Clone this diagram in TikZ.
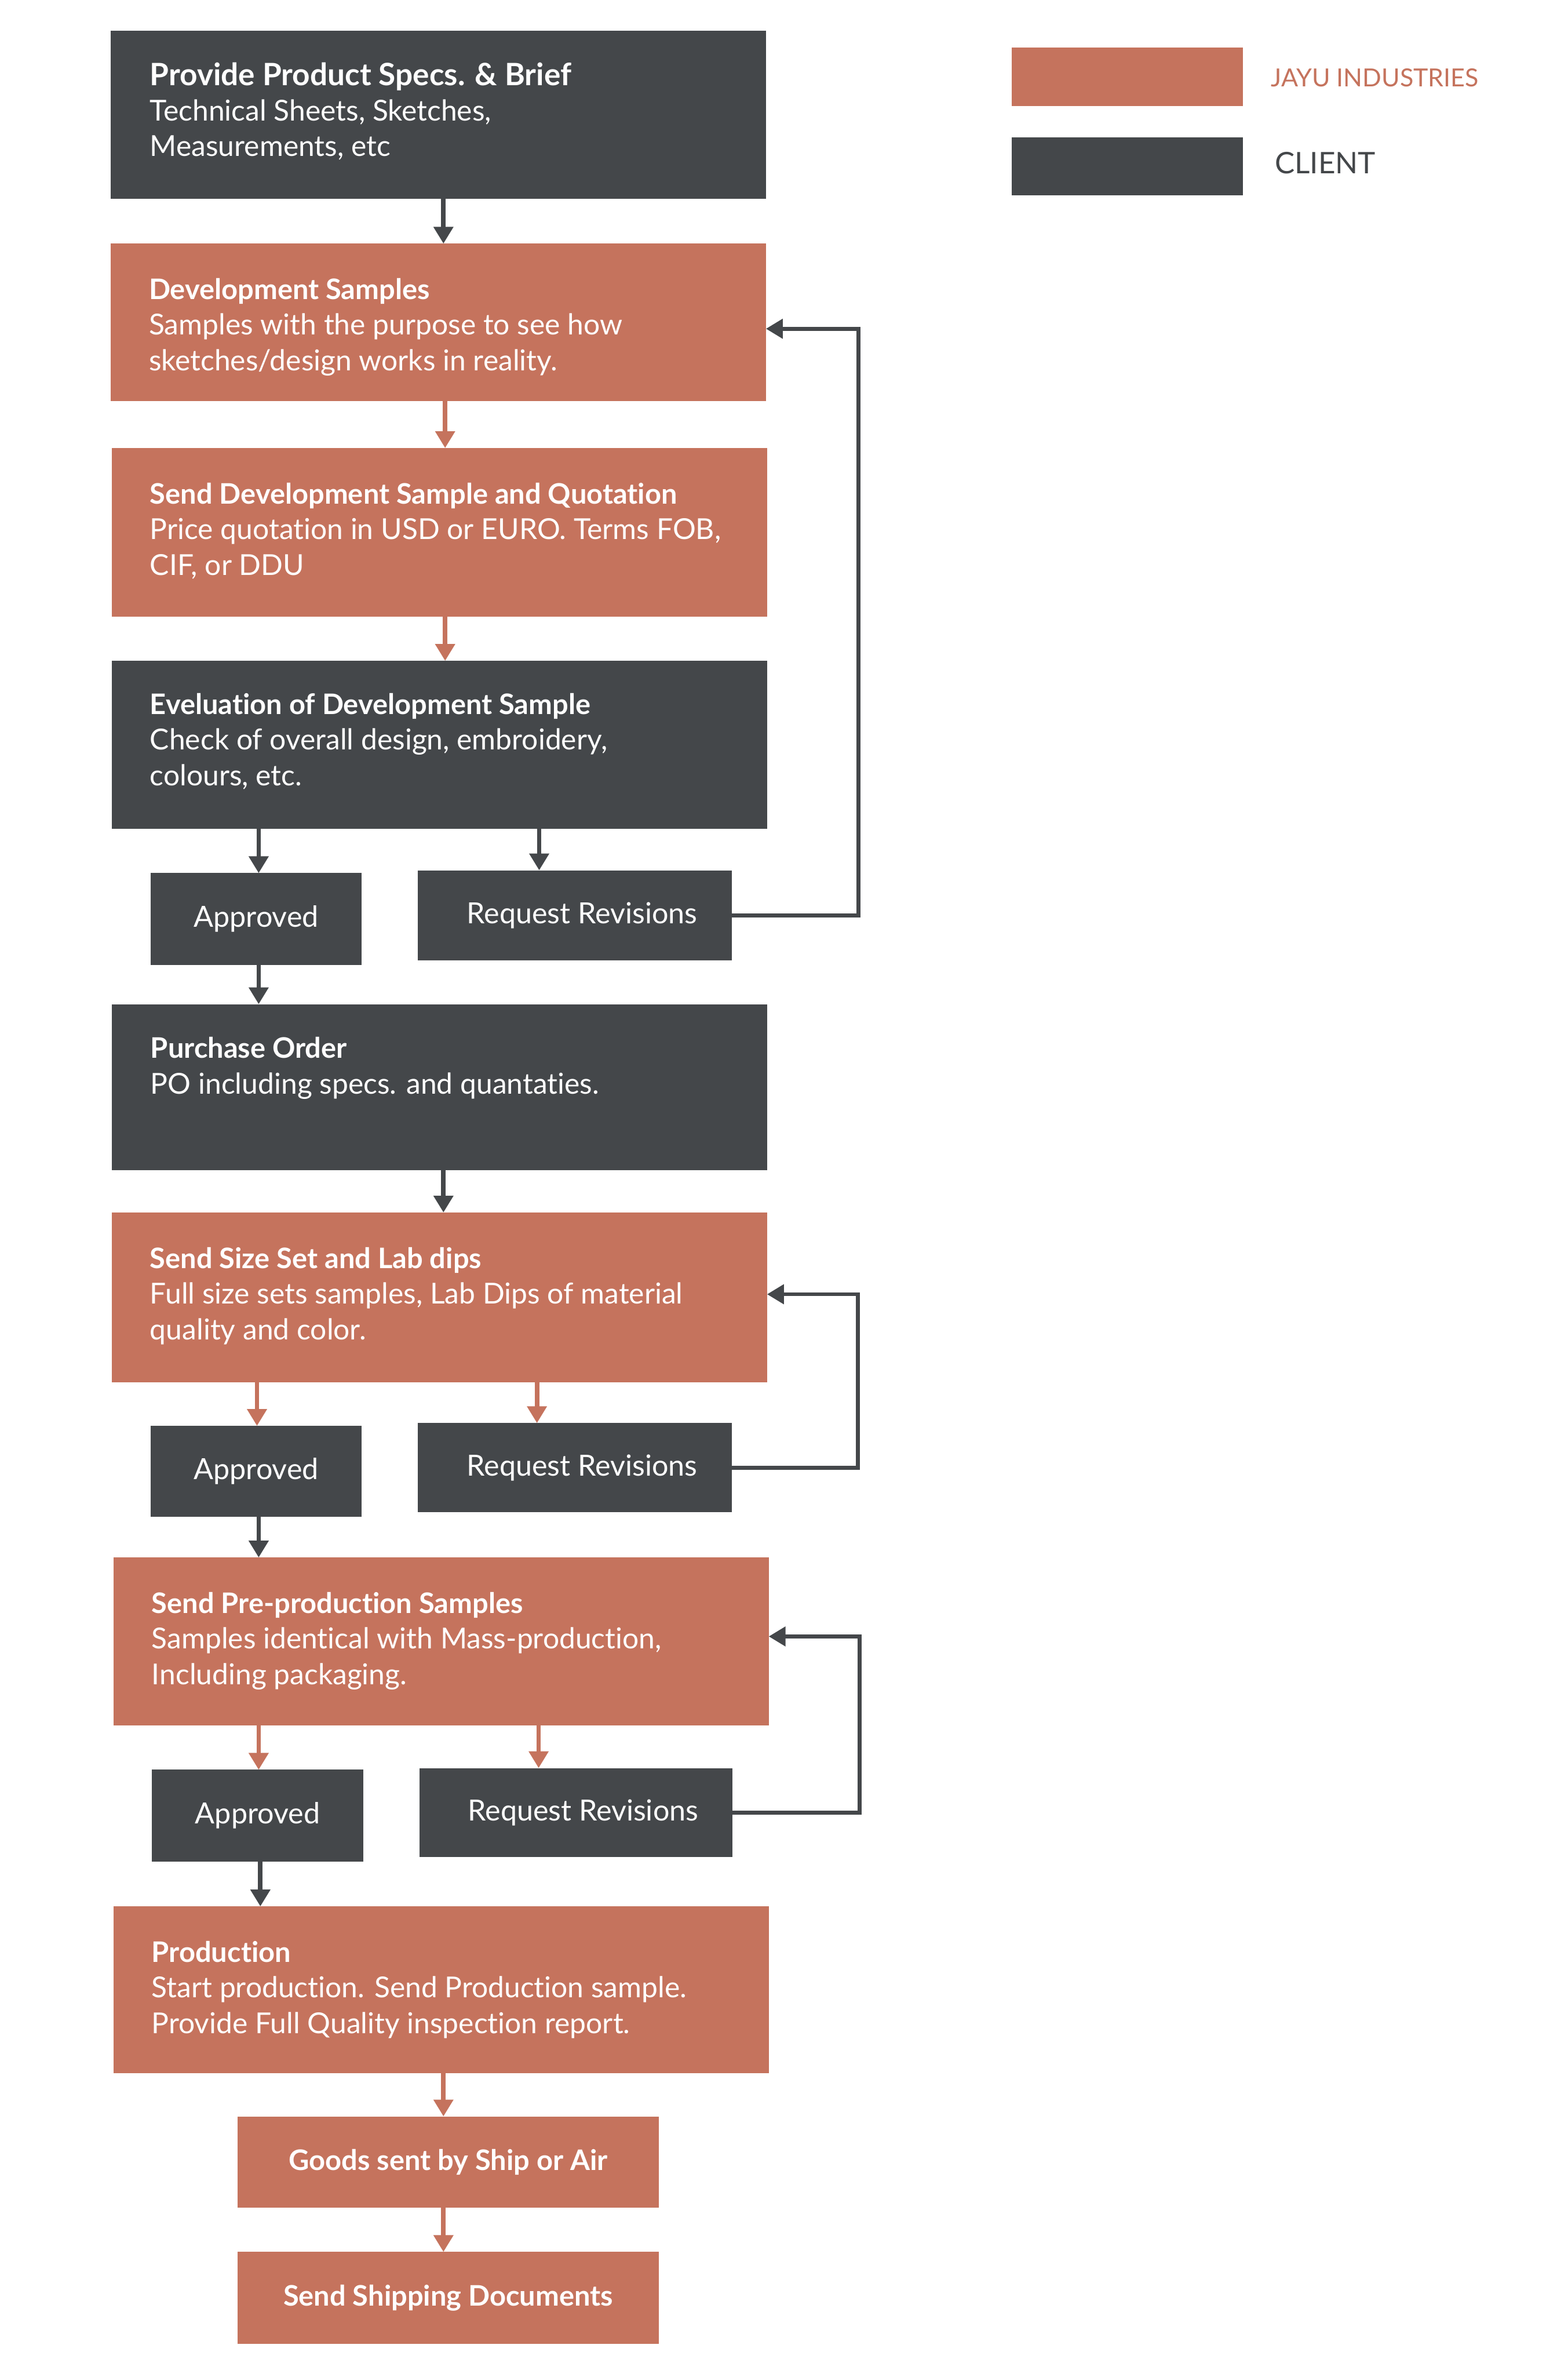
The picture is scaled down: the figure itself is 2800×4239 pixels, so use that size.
\documentclass[tikz,border=0pt]{standalone}
\usepackage{fontspec}
\setmainfont{Lato}[Ligatures=NoCommon]
\usetikzlibrary{arrows.meta,calc}
\definecolor{jayu}{HTML}{C5735D}
\definecolor{client}{HTML}{44474A}
\newcommand\bx[7]{\node[#2, minimum width={#5-#3}, minimum height={#6-#4}] (#1) at ({(#3+#5)/2},{(#4+#6)/2}) {#7};}
\newcommand\dn[4]{\draw[#1] ([xshift=#3pt]#2.south) -- ([xshift=#3pt]#2.south |- #4.north);}
\newcommand\bodyfont{\fontsize{51.5}{64}\selectfont}
\newcommand\headfont{\fontsize{50.5}{64}\selectfont\bfseries}
\begin{document}
\begin{tikzpicture}[x=1pt,y=-1pt,
  orangebox/.style={rectangle, fill=jayu, inner sep=0pt, outer sep=0pt},
  darkbox/.style={rectangle, fill=client, inner sep=0pt, outer sep=0pt},
  smalltxt/.style={text=white, font=\fontsize{52}{64}\selectfont},
  boldtxt/.style={text=white, font=\headfont},
  txt/.style={text=white, inner sep=0pt, outer sep=0pt, anchor=base west},
  arrD/.style={draw=client, line width=8pt, -{Triangle[width=34pt,length=30pt]}},
  arrO/.style={draw=jayu, line width=8pt, -{Triangle[width=34pt,length=30pt]}},
  loopline/.style={draw=client, line width=7pt, line join=miter, -{Triangle[width=34pt,length=30pt]}}
]
\useasboundingbox (0,0) rectangle (2800,4239);
\fill[white] (0,0) rectangle (2800,4239);

% legend
\bx{L1}{orangebox}{1807}{85}{2220}{189}{}
\bx{L2}{darkbox}{1807}{245}{2220}{349}{}
\node[txt, text=jayu, font=\fontsize{44.5}{54}\selectfont] (L1t) at (2270,155) {JAYU INDUSTRIES};
\node[txt, text=client, font=\fontsize{53}{60}\selectfont] (L2t) at (2277,310) {CLIENT};

% boxes
\bx{B1}{darkbox}{198}{55}{1368}{355}{}
\node[txt, font=\fontsize{55}{64}\selectfont\bfseries] (B1a) at (268,153) {Provide Product Specs. \& Brief};
\node[txt, font=\bodyfont] (B1b) at (268,216) {Technical Sheets, Sketches,};
\node[txt, font=\bodyfont] (B1c) at (268,279) {Measurements, etc};

\bx{B2}{orangebox}{198}{435}{1368}{716}{}
\node[txt, font=\headfont] (B2a) at (266,535) {Development Samples};
\node[txt, font=\bodyfont] (B2b) at (266,598) {Samples with the purpose to see how};
\node[txt, font=\bodyfont] (B2c) at (266,662) {sketches/design works in reality.};

\bx{B3}{orangebox}{200}{800}{1370}{1101}{}
\node[txt, font=\headfont] (B3a) at (268,900) {Send Development Sample and Quotation};
\node[txt, font=\bodyfont] (B3b) at (268,963) {Price quotation in USD or EURO. Terms FOB,};
\node[txt, font=\bodyfont] (B3c) at (268,1027) {CIF, or DDU};

\bx{B4}{darkbox}{200}{1180}{1370}{1480}{}
\node[txt, font=\headfont] (B4a) at (268,1276) {Eveluation of Development Sample};
\node[txt, font=\bodyfont] (B4b) at (268,1339) {Check of overall design, embroidery,};
\node[txt, font=\bodyfont] (B4c) at (268,1403) {colours, etc.};

\bx{A1}{darkbox, smalltxt}{269}{1559}{646}{1723}{Approved}
\bx{R1}{darkbox}{746}{1554}{1307}{1715}{}
\node[smalltxt, inner sep=0pt] (R1t) at ([xshift=13pt]R1.center) {Request Revisions};

\bx{B5}{darkbox}{200}{1793}{1370}{2089}{}
\node[txt, font=\headfont] (B5a) at (269,1889) {Purchase Order};
\node[txt, font=\bodyfont] (B5b) at (269,1953) {PO including specs. and quantaties.};

\bx{B6}{orangebox}{200}{2165}{1370}{2468}{}
\node[txt, font=\headfont] (B6a) at (268,2265) {Send Size Set and Lab dips};
\node[txt, font=\bodyfont] (B6b) at (268,2328) {Full size sets samples, Lab Dips of material};
\node[txt, font=\bodyfont] (B6c) at (268,2392) {quality and color.};

\bx{A2}{darkbox, smalltxt}{269}{2546}{646}{2708}{Approved}
\bx{R2}{darkbox}{746}{2541}{1307}{2700}{}
\node[smalltxt, inner sep=0pt] (R2t) at ([xshift=13pt]R2.center) {Request Revisions};

\bx{B7}{orangebox}{203}{2781}{1373}{3081}{}
\node[txt, font=\headfont] (B7a) at (271,2881) {Send Pre-production Samples};
\node[txt, font=\bodyfont] (B7b) at (271,2944) {Samples identical with Mass-production,};
\node[txt, font=\bodyfont] (B7c) at (271,3008) {Including packaging.};

\bx{A3}{darkbox, smalltxt}{271}{3160}{649}{3324}{Approved}
\bx{R3}{darkbox}{749}{3157}{1308}{3316}{}
\node[smalltxt, inner sep=0pt] (R3t) at ([xshift=13pt]R3.center) {Request Revisions};

\bx{B8}{orangebox}{203}{3404}{1373}{3702}{}
\node[txt, font=\headfont] (B8a) at (271,3504) {Production};
\node[txt, font=\bodyfont] (B8b) at (271,3567) {Start production. Send Production sample.};
\node[txt, font=\bodyfont] (B8c) at (271,3631) {Provide Full Quality inspection report.};

\bx{G}{orangebox, boldtxt}{424}{3779}{1177}{3942}{Goods sent by Ship or Air}
\bx{S}{orangebox, boldtxt}{424}{4021}{1177}{4185}{Send Shipping Documents}

% vertical arrows
\dn{arrD}{B1}{9}{B2}
\dn{arrO}{B2}{12}{B3}
\dn{arrO}{B3}{10}{B4}
\dn{arrD}{B4}{-323}{A1}
\dn{arrD}{B4}{178}{R1}
\dn{arrD}{A1}{4.5}{B5}
\dn{arrD}{B5}{7}{B6}
\dn{arrO}{B6}{-326}{A2}
\dn{arrO}{B6}{174}{R2}
\dn{arrD}{A2}{4.5}{B7}
\dn{arrO}{B7}{-326}{A3}
\dn{arrO}{B7}{174}{R3}
\dn{arrD}{A3}{5}{B8}
\dn{arrO}{B8}{4}{G}
\dn{arrO}{G}{-8.5}{S}

% revision loops
\coordinate (K1) at (1533,587);
\coordinate (K2) at (1532,2311);
\coordinate (K3) at (1535,2922);
\draw[loopline] (R1.east) -| (K1) -- (K1 -| B2.east);
\draw[loopline] (R2.east) -| (K2) -- (K2 -| B6.east);
\draw[loopline] (R3.east) -| (K3) -- (K3 -| B7.east);
\end{tikzpicture}
\end{document}
